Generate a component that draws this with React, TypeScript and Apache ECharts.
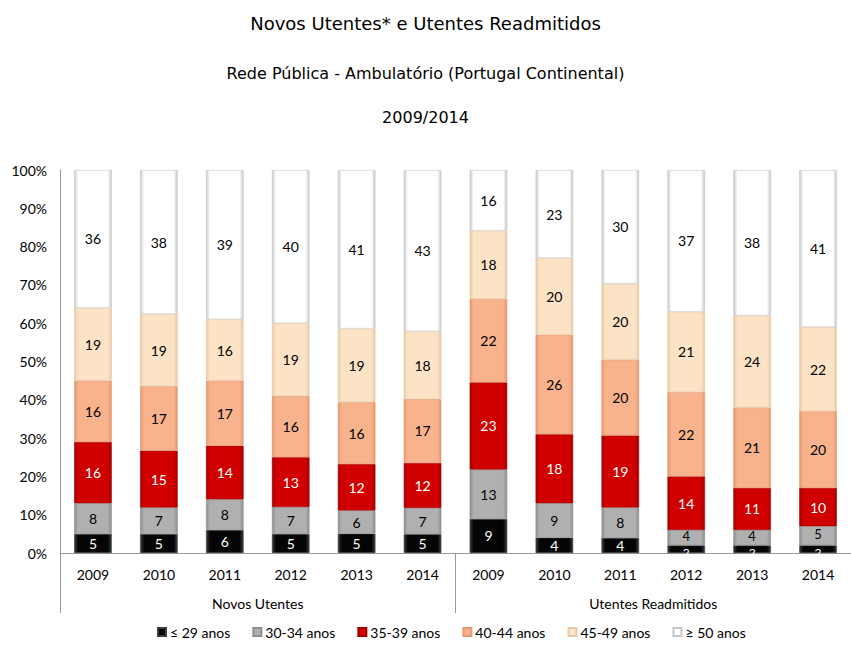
import React, { useEffect, useRef } from "react";
import * as echarts from "echarts";

const years = ["2009", "2010", "2011", "2012", "2013", "2014", "2009", "2010", "2011", "2012", "2013", "2014"];
const groups = ["Novos Utentes", "Utentes Readmitidos"];
const yTicks = ["0%", "10%", "20%", "30%", "40%", "50%", "60%", "70%", "80%", "90%", "100%"];

const age29 = [5, 5, 6, 5, 5, 5, 9, 4, 4, 2, 2, 2];
const age30 = [8, 7, 8, 7, 6, 7, 13, 9, 8, 4, 4, 5];
const age35 = [16, 15, 14, 13, 12, 12, 23, 18, 19, 14, 11, 10];
const age40 = [16, 17, 17, 16, 16, 17, 22, 26, 20, 22, 21, 20];
const age45 = [19, 19, 16, 19, 19, 18, 18, 20, 20, 21, 24, 22];
const age50 = [36, 38, 39, 40, 41, 43, 16, 23, 30, 37, 38, 41];

const seriesNames = ["≤ 29 anos", "30-34 anos", "35-39 anos", "40-44 anos", "45-49 anos", "≥ 50 anos"];
const seriesData = [age29, age30, age35, age40, age45, age50];

const palette = [
  { base: "#050505", edge: "#3c3c3c", text: "#ffffff" },
  { base: "#b0b0b0", edge: "#8e8e8e", text: "#000000" },
  { base: "#d00000", edge: "#a30000", text: "#ffffff" },
  { base: "#f9b38c", edge: "#e39870", text: "#000000" },
  { base: "#fde3c6", edge: "#e6c9a8", text: "#000000" },
  { base: "#ffffff", edge: "#c8c8c8", text: "#000000" },
];

const FONT = "Lato, 'Open Sans', sans-serif";
const TITLE_FONT = "'DejaVu Sans', sans-serif";

export default function App() {
  const ref = useRef<HTMLDivElement>(null);
  useEffect(() => {
    if (!ref.current) return;
    const chart = echarts.init(ref.current, null, { renderer: "svg" });
    const totals = years.map((_, i) => seriesData.reduce((s, arr) => s + arr[i], 0));
    const series = seriesData.map((arr, k) => ({
      name: seriesNames[k],
      type: "bar",
      stack: "all",
      barWidth: "57%",
      xAxisIndex: 0,
      data: arr.map((v, i) => {
        const item: any = { value: (v / totals[i]) * 100 };
        const small = arr[i] <= 2 || (k === 1 && seriesData[0][i] <= 2);
        if (small) {
          item.label = k === 0 ? { fontSize: 12, offset: [0, 3] } : { fontSize: 13, offset: [0, -2] };
        }
        return item;
      }),
      itemStyle: {
        color: new echarts.graphic.LinearGradient(0, 0, 1, 0, [
          { offset: 0, color: palette[k].edge },
          { offset: 0.1, color: palette[k].base },
          { offset: 0.9, color: palette[k].base },
          { offset: 1, color: palette[k].edge },
        ]),
        borderColor: palette[k].edge,
        borderWidth: 0.6,
      },
      label: {
        show: true,
        position: "inside",
        color: palette[k].text,
        fontSize: 14,
        fontFamily: FONT,
        formatter: (p: any) => String(arr[p.dataIndex]),
      },
    }));
    chart.setOption({
      animation: false,
      backgroundColor: "#ffffff",
      textStyle: { fontFamily: FONT },
      title: [
        { text: "Novos Utentes* e Utentes Readmitidos", left: "center", top: 9, textStyle: { fontSize: 18, fontWeight: "normal", color: "#000", fontFamily: TITLE_FONT } },
        { text: "Rede Pública - Ambulatório (Portugal Continental)", left: "center", top: 60, textStyle: { fontSize: 16, fontWeight: "normal", color: "#000", fontFamily: TITLE_FONT } },
        { text: "2009/2014", left: "center", top: 104, textStyle: { fontSize: 16, fontWeight: "normal", color: "#000", fontFamily: TITLE_FONT } },
      ],
      legend: {
        bottom: 3,
        left: 152,
        itemWidth: 8,
        itemHeight: 8,
        itemGap: 22,
        icon: "rect",
        textStyle: { fontSize: 14, color: "#000", fontFamily: FONT, padding: [0, 0, 0, -1] },
        data: seriesNames,
      },
      grid: { left: 60, top: 170, width: 800, bottom: 94, containLabel: false },
      xAxis: [
        {
          type: "category",
          data: years,
          position: "bottom",
          axisLine: { show: true, lineStyle: { color: "#9a9a9a", width: 1 } },
          axisTick: { show: false },
          axisLabel: { color: "#000", fontSize: 14, margin: 14, fontFamily: FONT },
        },
        {
          type: "category",
          data: groups,
          position: "bottom",
          axisLine: { show: false },
          axisTick: { show: true, length: 60, lineStyle: { color: "#9a9a9a" } },
          axisLabel: { color: "#000", fontSize: 14, margin: 43, fontFamily: FONT },
        },
      ],
      yAxis: {
        type: "value",
        min: 0,
        max: 100,
        interval: 10,
        axisLine: { show: true, lineStyle: { color: "#9a9a9a" } },
        axisTick: { show: false },
        splitLine: { show: false },
        axisLabel: {
          color: "#000",
          fontSize: 14,
          margin: 13,
          fontFamily: FONT,
          formatter: (v: number) => yTicks[Math.round(v / 10)],
        },
      },
      series,
    });
    return () => chart.dispose();
  }, []);
  return <div ref={ref} style={{ position: "fixed", left: 0, top: 0, width: 851, height: 647 }} />;
}
